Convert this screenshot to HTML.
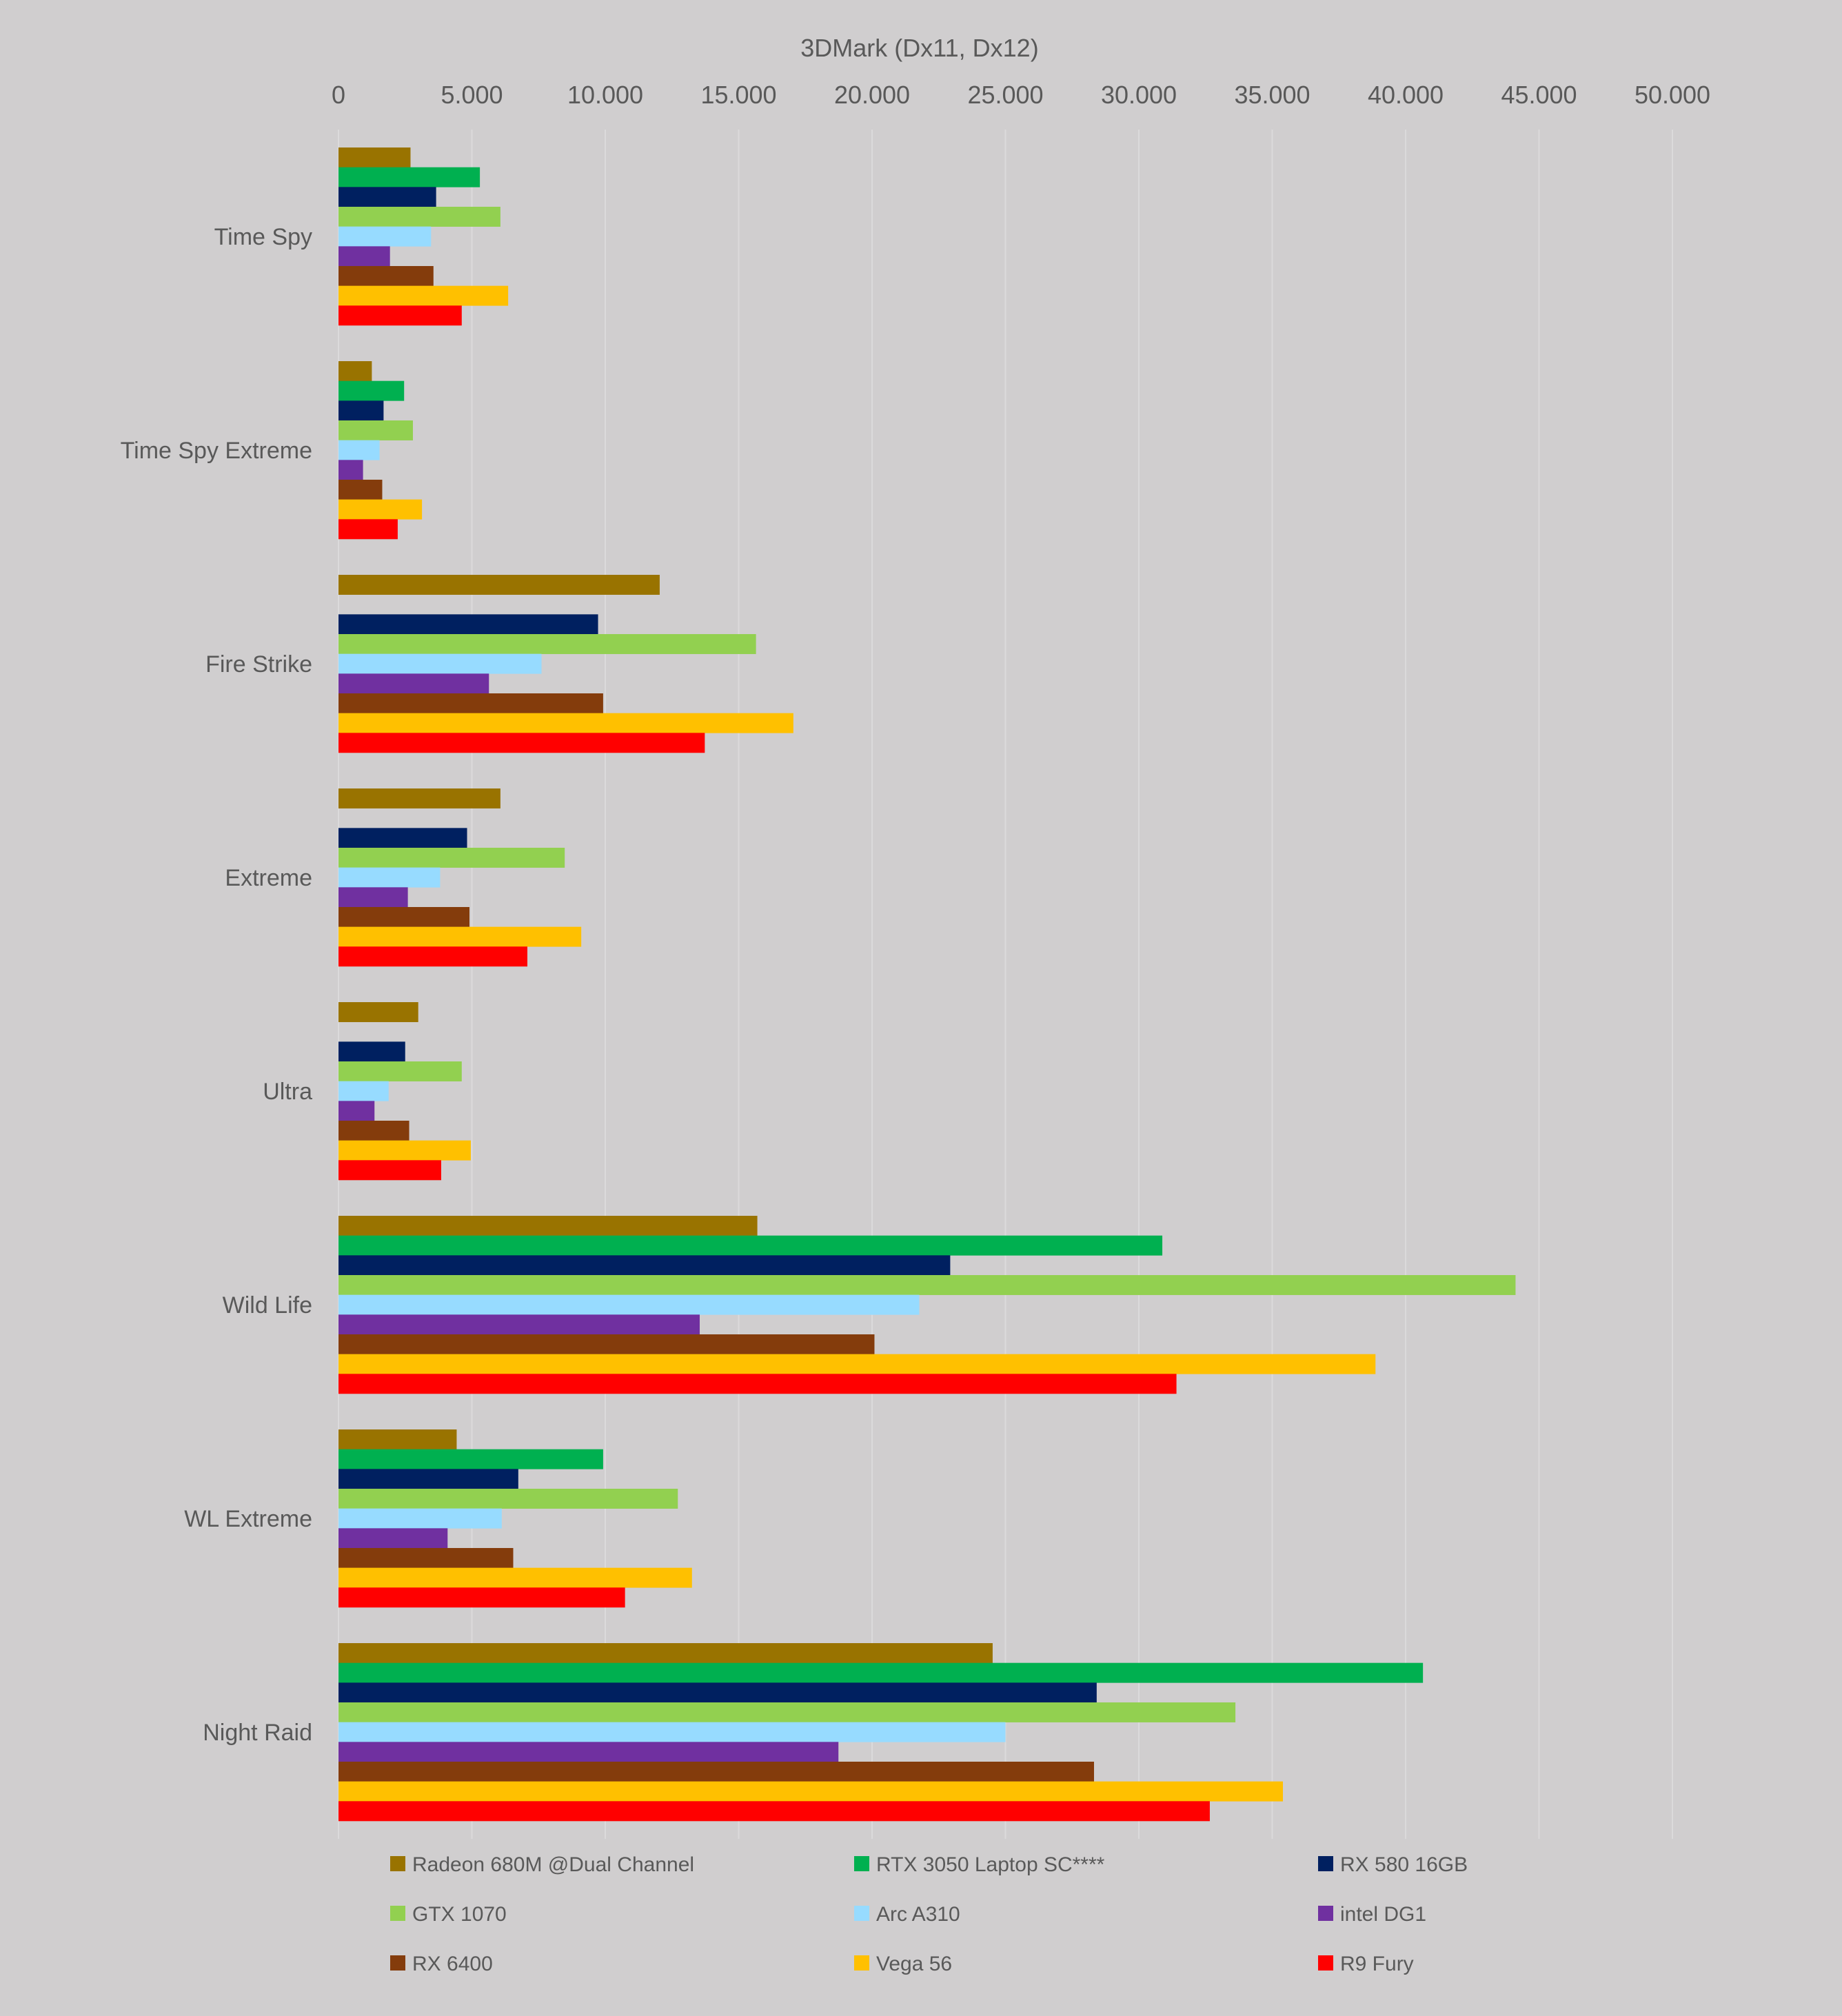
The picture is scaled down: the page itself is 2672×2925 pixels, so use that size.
<!DOCTYPE html>
<html><head><meta charset="utf-8"><style>
html,body{margin:0;padding:0;background:#d0cecf;}
svg{display:block;font-family:"Liberation Sans",sans-serif;}
</style></head><body>
<svg id="chart" width="2672" height="2925" viewBox="0 0 2672 2925" xmlns="http://www.w3.org/2000/svg">
<rect width="2672" height="2925" fill="#d0cecf"/>
<text x="1334" y="82" font-size="36" fill="#595959" text-anchor="middle">3DMark (Dx11, Dx12)</text>
<g id="grid"></g><g id="bars"></g><g id="legend"></g>
</svg>
<script>
const categories=["Time Spy","Time Spy Extreme","Fire Strike","Extreme","Ultra","Wild Life","WL Extreme","Night Raid"];
const seriesNames=["Radeon 680M @Dual Channel","RTX 3050 Laptop SC****","RX 580 16GB","GTX 1070","Arc A310","intel DG1","RX 6400","Vega 56","R9 Fury"];
const seriesColors=["#997300","#00b050","#002060","#92d050","#97dbff","#7030a0","#843c0c","#ffc000","#ff0000"];
const s680M=[2700,1250,12040,6070,2990,15700,4430,24520];
const s3050=[5300,2460,0,0,0,30880,9920,40650];
const s580=[3660,1690,9730,4820,2500,22930,6740,28420];
const s1070=[6070,2790,15650,8480,4620,44120,12720,33620];
const sA310=[3470,1540,7610,3810,1880,21770,6120,25000];
const sDG1=[1930,920,5640,2600,1350,13540,4090,18740];
const s6400=[3560,1640,9920,4910,2650,20090,6550,28320];
const sVega=[6360,3130,17050,9100,4960,38870,13250,35400];
const sFury=[4620,2220,13730,7080,3850,31410,10740,32660];
const ticks=[0,5000,10000,15000,20000,25000,30000,35000,40000,45000,50000];
const tickLabels=["0","5.000","10.000","15.000","20.000","25.000","30.000","35.000","40.000","45.000","50.000"];
const series=[s680M,s3050,s580,s1070,sA310,sDG1,s6400,sVega,sFury];
const NS="http://www.w3.org/2000/svg";
const x0=491,x1=2426,xmax=50000,topY=188,band=310,pad=26;
const X=v=>x0+(v/xmax)*(x1-x0);
const barH=(band-2*pad)/series.length;
function mk(t,a,p){const e=document.createElementNS(NS,t);for(const k in a)e.setAttribute(k,a[k]);p.appendChild(e);return e;}
const grid=document.getElementById('grid'),bars=document.getElementById('bars'),leg=document.getElementById('legend');
const bottomY=topY+band*categories.length;
ticks.forEach((t,i)=>{
 const l=mk('line',{x1:X(t),x2:X(t),y1:topY,y2:bottomY,stroke:'#dbdadb','stroke-width':2},grid);
 
 
 const tx=mk('text',{x:X(t),y:150,'font-size':36,fill:'#595959','text-anchor':'middle'},grid);
 tx.textContent=tickLabels[i];
 
 
});
categories.forEach((c,ci)=>{
 const y=topY+ci*band;
 const tx=mk('text',{x:453,y:y+band/2+12,'font-size':34,fill:'#595959','text-anchor':'end'},bars);
 tx.textContent=c;
 
 
 series.forEach((s,si)=>{
  if(!s[ci])return;
  const r=mk('rect',{x:x0,y:y+pad+si*barH,width:X(s[ci])-x0,height:barH+0.3,fill:seriesColors[si]},bars);
  
  
 });
});
seriesNames.forEach((n,i)=>{
 const cx=[566,1239,1912][i%3],cy=[2704,2776,2848][Math.floor(i/3)];
 const r=mk('rect',{x:cx,y:cy-11,width:22,height:22,fill:seriesColors[i]},leg);
 
 
 const t=mk('text',{x:cx+32,y:cy+11,'font-size':30,fill:'#595959'},leg);
 t.textContent=n;
 
 
});
</script>
</body></html>
